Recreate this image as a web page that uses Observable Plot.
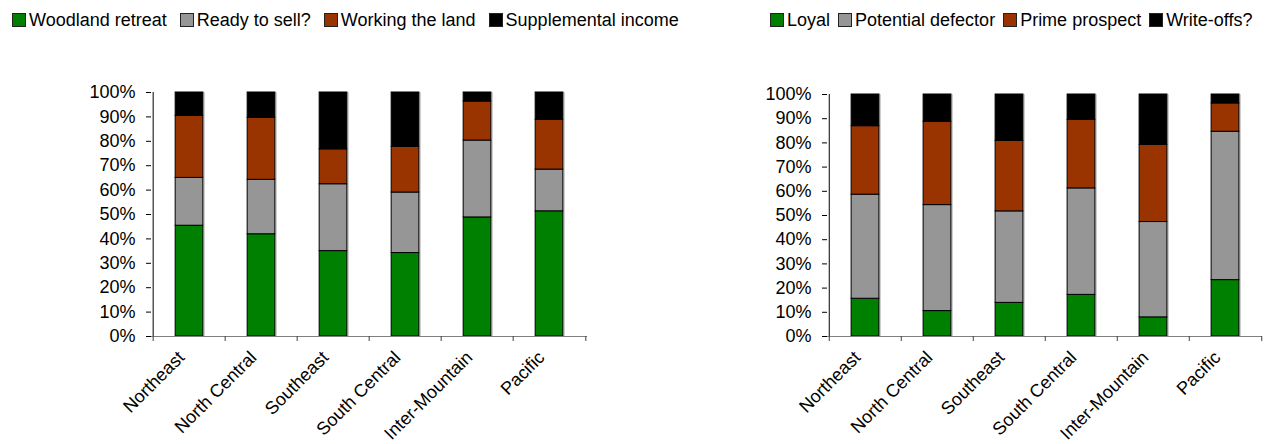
<!DOCTYPE html>
<html><head><meta charset="utf-8">
<script src="https://cdn.jsdelivr.net/npm/d3@7"></script>
<script src="https://cdn.jsdelivr.net/npm/@observablehq/plot@0.6"></script>
<style>
body{margin:0;background:#fff;font-family:Arial,"Liberation Sans",sans-serif;}
#wrap{position:relative;width:1267px;height:444px;overflow:hidden;background:#fff}
.legend{position:absolute;top:10px;display:flex;align-items:center;font-size:18px;color:#000;white-space:nowrap;line-height:20px}
.legend .item{display:flex;align-items:center}
.legend i{display:inline-block;width:12px;height:12px;border:1px solid #222;margin-right:3px;box-sizing:content-box}
#left-legend{left:12px}
#left-legend .item{margin-right:13px}
#right-legend{left:770px}
#right-legend .item{margin-right:8px}
#plots{position:absolute;top:40px;left:0;display:flex}
</style></head>
<body>
<div id="wrap">
  <div id="left-legend" class="legend"></div>
  <div id="right-legend" class="legend"></div>
  <div id="plots"></div>
</div>
<script>
// ---- data ----
const regions = ["Northeast", "North Central", "Southeast", "South Central", "Inter-Mountain", "Pacific"];

const leftSeries = ["Woodland retreat", "Ready to sell?", "Working the land", "Supplemental income"];
const woodlandRetreat    = [45.4, 41.9, 35.0, 34.2, 48.8, 51.3];
const readyToSell        = [19.6, 22.3, 27.4, 24.8, 31.5, 17.1];
const workingTheLand     = [25.4, 25.4, 14.3, 18.7, 16.0, 20.4];
const supplementalIncome = [ 9.6, 10.4, 23.3, 22.3,  3.7, 11.2];

const rightSeries = ["Loyal", "Potential defector", "Prime prospect", "Write-offs?"];
const loyal             = [15.6, 10.5, 13.9, 17.2,  7.9, 23.3];
const potentialDefector = [43.0, 43.8, 37.8, 44.0, 39.4, 61.3];
const primeProspect     = [28.3, 34.4, 29.1, 28.3, 31.9, 11.7];
const writeOffs         = [13.1, 11.3, 19.2, 10.5, 20.8,  3.7];

const yTicks = [0, 10, 20, 30, 40, 50, 60, 70, 80, 90, 100];
const colors = ["#008000", "#969696", "#993300", "#000000"];

// ---- build tables ----
function toRows(series, values) {
  const rows = [];
  series.forEach((s, i) => regions.forEach((r, j) => rows.push({region: r, segment: s, value: values[i][j]})));
  return rows;
}
const leftRows = toRows(leftSeries, [woodlandRetreat, readyToSell, workingTheLand, supplementalIncome]);
const rightRows = toRows(rightSeries, [loyal, potentialDefector, primeProspect, writeOffs]);

function legend(el, series) {
  series.forEach((s, i) => {
    const item = document.createElement("span");
    item.className = "item";
    const sw = document.createElement("i");
    sw.style.background = colors[i];
    item.appendChild(sw);
    item.appendChild(document.createTextNode(s));
    el.appendChild(item);
  });
}
legend(document.getElementById("left-legend"), leftSeries);
legend(document.getElementById("right-legend"), rightSeries);

function chart(rows, series, opts) {
  const {width, marginLeft, marginRight, marginTop, marginBottom} = opts;
  const height = 404;
  const step = (width - marginLeft - marginRight) / regions.length;
  const inset = step * 0.305;
  return Plot.plot({
    width, height, marginLeft, marginRight, marginTop, marginBottom,
    style: {fontSize: "18px", fontFamily: "Arial, 'Liberation Sans', sans-serif", color: "#000", background: "#fff", overflow: "visible"},
    x: {domain: regions, padding: 0, label: null},
    y: {domain: [0, 100], label: null},
    color: {domain: series, range: colors},
    marks: [
      Plot.barY(rows, Plot.stackY({x: "region", y: "value", fill: "#c8c8c8", dx: 2, insetLeft: inset, insetRight: inset})),
      Plot.barY(rows, Plot.stackY({x: "region", y: "value", fill: "segment", stroke: "#000", strokeWidth: 1, insetLeft: inset, insetRight: inset})),
      Plot.ruleY([0], {stroke: "#808080", strokeWidth: 1.2}),
      Plot.ruleX([regions[0]], {y1: 0, y2: 100, dx: -step / 2, stroke: "#000"}),
      Plot.axisY({ticks: yTicks, tickFormat: d => d + "%", tickSize: 5, tickPadding: 11, stroke: "#000", label: null}),
      Plot.axisX(regions, {tickSize: 5, tickFormat: () => "", dx: -step / 2, stroke: "#404040", label: null}),
      Plot.axisX([regions[regions.length - 1]], {tickSize: 5, tickFormat: () => "", dx: step / 2, stroke: "#404040", label: null}),
      Plot.axisX({tickSize: 0, tickRotate: -45, tickPadding: 18, dx: -8, label: null})
    ]
  });
}

const plots = document.getElementById("plots");
plots.appendChild(chart(leftRows, leftSeries, {width: 620, marginLeft: 151, marginRight: 33, marginTop: 52, marginBottom: 108}));
plots.appendChild(chart(rightRows, rightSeries, {width: 647, marginLeft: 207, marginRight: 5, marginTop: 54, marginBottom: 108}));
</script>
</body></html>
